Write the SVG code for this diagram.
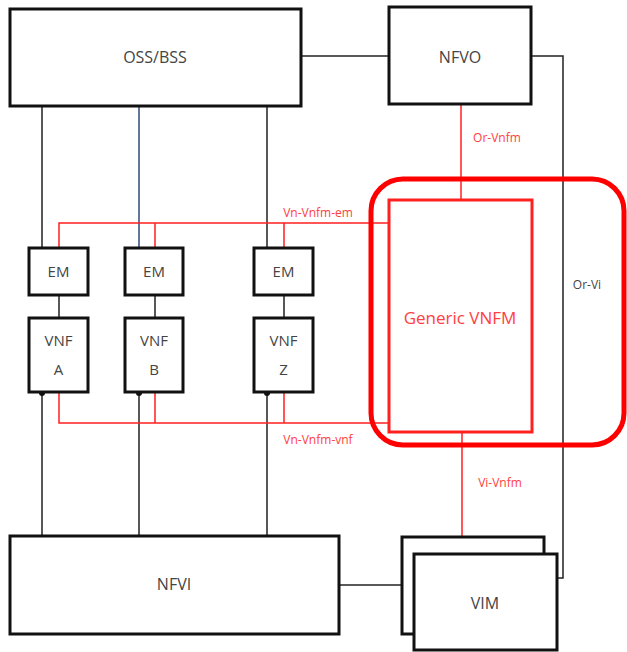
<svg xmlns="http://www.w3.org/2000/svg" width="627" height="652" viewBox="0 0 627 652">
<style>
.box{fill:#fff;stroke:#111;stroke-width:3}
.t{font-family:"Open Sans","Liberation Sans",sans-serif;fill:#444;text-anchor:middle}
.rt{font-family:"Open Sans","Liberation Sans",sans-serif;fill:#ff4040;text-anchor:middle;font-size:12px}
.k{stroke:#222;stroke-width:1.5;fill:none}
.r{stroke:#ff2020;stroke-width:1.5;fill:none}
</style>
<rect width="627" height="652" fill="#fff"/>
<g id="connectors">
<path class="k" d="M301 56H389"/>
<path class="k" d="M531 56H563V578H557"/>
<path class="k" d="M42 106V248M267 106V248"/>
<path d="M139 106V248" stroke="#2f4a78" stroke-width="1.5"/>
<path class="k" d="M59 295V318M155 295V318M284 295V318"/>
<path class="k" d="M42 392V536M139 392V536M267 392V536"/>
<circle cx="42" cy="393" r="3" fill="#111"/>
<circle cx="139" cy="393" r="3" fill="#111"/>
<circle cx="267" cy="393" r="3" fill="#111"/>
<path class="k" d="M339 585H402"/>
<path class="r" d="M461 104V200"/>
<path class="r" d="M462 432V537"/>
<path class="r" d="M59 248V223H389M155 223V248M284 223V248"/>
<path class="r" d="M59 392V423H389M155 392V423M284 392V423"/>
<text class="rt" x="497" y="142">Or-Vnfm</text>
<text class="rt" x="318" y="217">Vn-Vnfm-em</text>
<text class="rt" x="318" y="444">Vn-Vnfm-vnf</text>
<text class="rt" x="500" y="487">Vi-Vnfm</text>
<text class="t" x="587" y="289" font-size="12">Or-Vi</text>
</g>
<g id="oss"><rect class="box" x="10" y="9" width="291" height="97"/><text class="t" x="155" y="63" font-size="16">OSS/BSS</text></g>
<g id="nfvo"><rect class="box" x="389" y="7" width="142" height="97"/><text class="t" x="460" y="63" font-size="16">NFVO</text></g>
<g id="em-a"><rect class="box" x="29" y="248" width="59" height="47"/><text class="t" x="58.5" y="277" font-size="15">EM</text></g>
<g id="em-b"><rect class="box" x="125" y="248" width="58" height="47"/><text class="t" x="154" y="277" font-size="15">EM</text></g>
<g id="em-z"><rect class="box" x="254" y="248" width="59" height="47"/><text class="t" x="283.5" y="277" font-size="15">EM</text></g>
<g id="vnf-a"><rect class="box" x="29" y="318" width="59" height="74"/><text class="t" x="58.5" y="346" font-size="15">VNF</text><text class="t" x="58.5" y="375" font-size="15">A</text></g>
<g id="vnf-b"><rect class="box" x="125" y="318" width="58" height="74"/><text class="t" x="154" y="346" font-size="15">VNF</text><text class="t" x="154" y="375" font-size="15">B</text></g>
<g id="vnf-z"><rect class="box" x="254" y="318" width="59" height="74"/><text class="t" x="283.5" y="346" font-size="15">VNF</text><text class="t" x="283.5" y="375" font-size="15">Z</text></g>
<g id="generic-vnfm">
<rect x="371" y="179" width="253" height="266" rx="32" fill="none" stroke="#ff0000" stroke-width="5"/>
<rect x="389" y="200" width="143" height="232" fill="none" stroke="#ff2020" stroke-width="3"/>
<text x="460" y="324" font-family="Open Sans,Liberation Sans,sans-serif" font-size="17" fill="#ff4040" text-anchor="middle">Generic VNFM</text>
</g>
<g id="nfvi"><rect class="box" x="10" y="536" width="329" height="98"/><text class="t" x="174" y="590" font-size="16">NFVI</text></g>
<g id="vim">
<rect class="box" x="402" y="537" width="142" height="97"/>
<rect class="box" x="414" y="554" width="143" height="96"/>
<text class="t" x="485" y="609" font-size="16">VIM</text>
</g>
</svg>
